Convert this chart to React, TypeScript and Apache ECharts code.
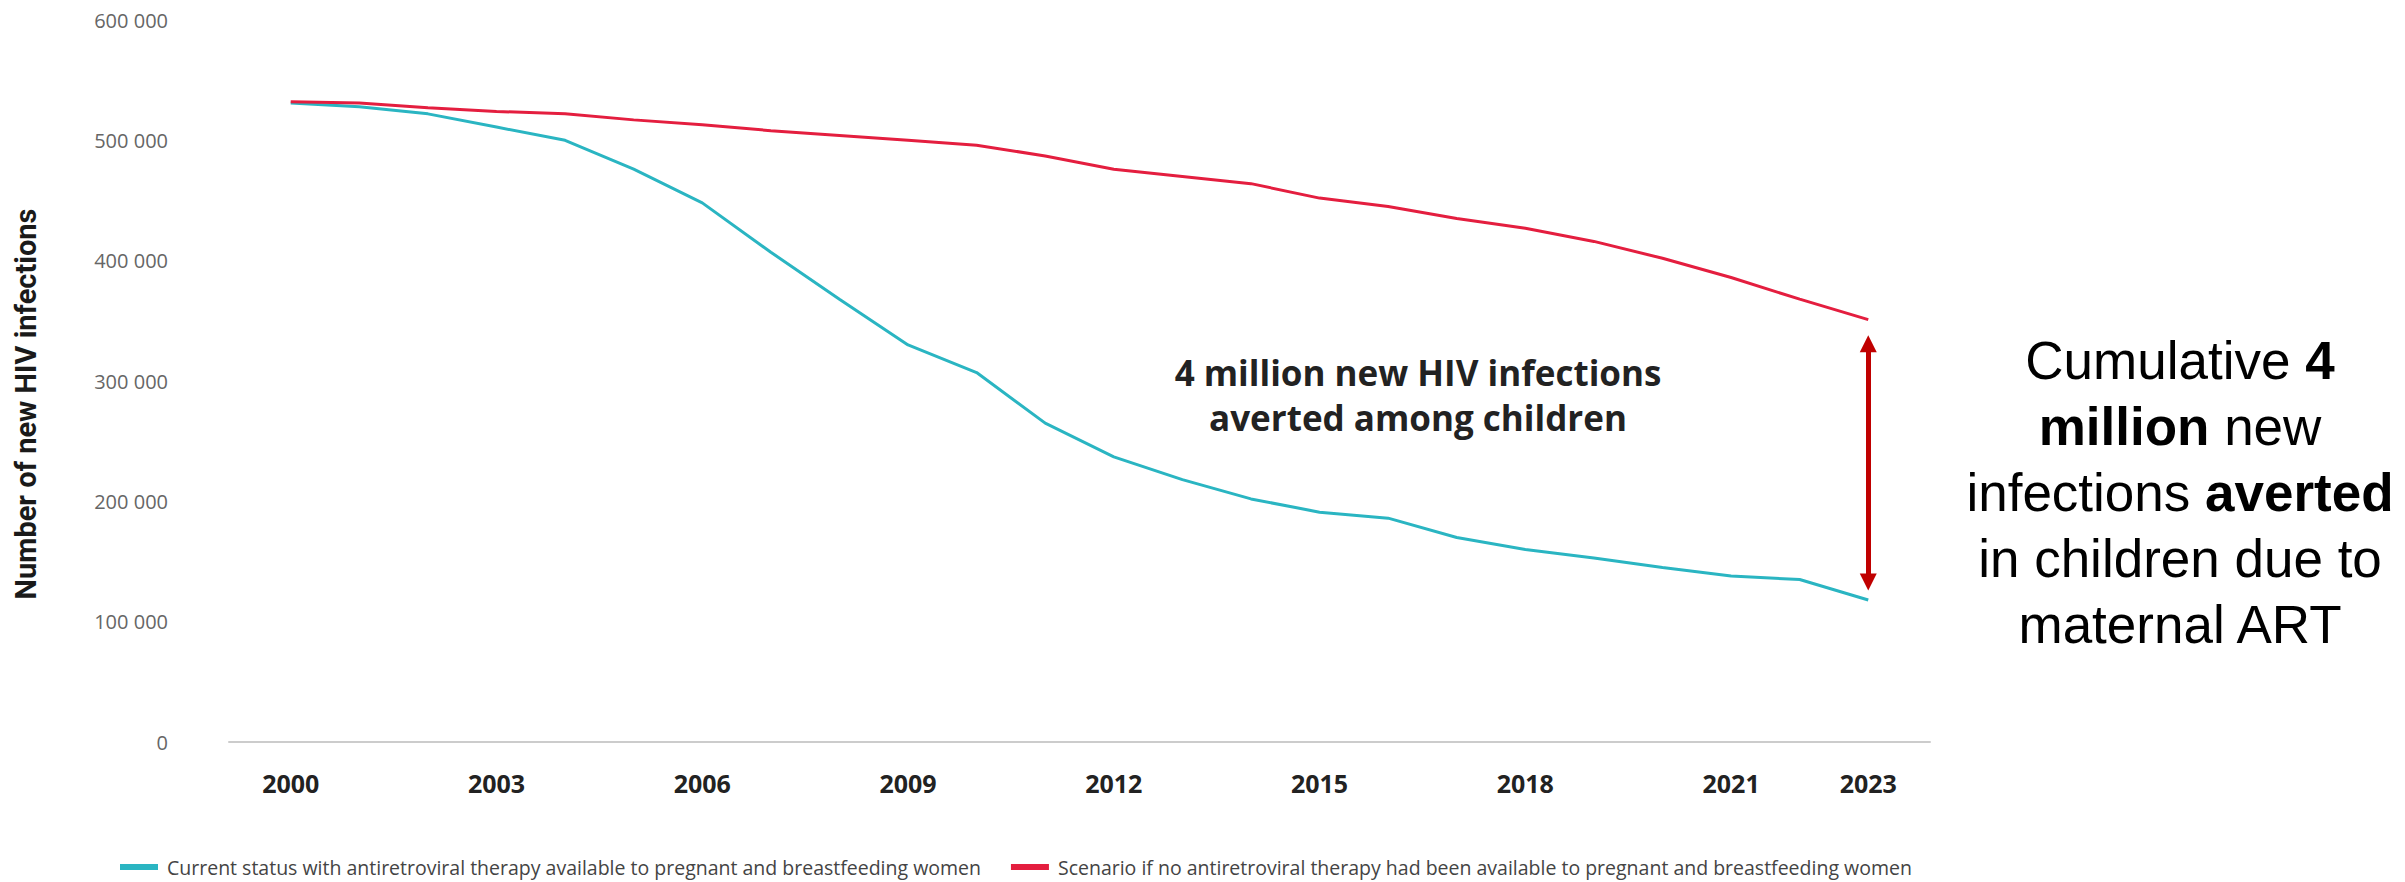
import React, { useEffect, useRef } from "react";
import * as echarts from "echarts";

// Years covered by the estimates
const years = [
  2000, 2001, 2002, 2003, 2004, 2005, 2006, 2007, 2008, 2009, 2010, 2011,
  2012, 2013, 2014, 2015, 2016, 2017, 2018, 2019, 2020, 2021, 2022, 2023,
];

// New HIV infections among children, with maternal ART available
const currentStatus = [
  531000, 528000, 522000, 511000, 500000, 476000, 448000, 407000, 368000,
  330000, 307000, 265000, 237000, 218000, 202000, 191000, 186000, 170000,
  160000, 153000, 145000, 138000, 135000, 118000,
];

// Counterfactual: no ART for pregnant and breastfeeding women
const noArtScenario = [
  532000, 531000, 527000, 524000, 522000, 517000, 513000, 508000, 504000,
  500000, 496000, 487000, 476000, 470000, 464000, 452000, 445000, 435000,
  427000, 416000, 402000, 386000, 368000, 351000,
];

const yearLabels = [2000, 2003, 2006, 2009, 2012, 2015, 2018, 2021, 2023];
const yTicks = { min: 0, max: 600000, interval: 100000 };

// Double-headed arrow spanning the gap in the final year (shaft ends)
const gapYear = 2023;
const gapTop = 331000;
const gapBottom = 133000;

const seriesNames = [
  "Current status with antiretroviral therapy available to pregnant and breastfeeding women",
  "Scenario if no antiretroviral therapy had been available to pregnant and breastfeeding women",
];

const annotationLines = [
  "4 million new HIV infections",
  "averted among children",
];

const TEAL = "#2ab5c2";
const RED = "#e41e3f";
const ARROW = "#c00000";

const spaced = (v: number) =>
  String(v).replace(/\B(?=(\d{3})+(?!\d))/g, " ");

export default function App() {
  const ref = useRef<HTMLDivElement>(null);

  useEffect(() => {
    if (!ref.current) return;
    const chart = echarts.init(ref.current, null, { renderer: "svg" });

    const annotationStyle = {
      fontFamily: "Open Sans",
      fontWeight: "bold",
      fontSize: 35,
      lineHeight: 42,
      fill: "#222",
      align: "center",
      verticalAlign: "middle",
    };

    chart.setOption({
      animation: false,
      backgroundColor: "#ffffff",
      grid: { left: 229, right: 475, top: 20, bottom: 140 },
      legend: {
        left: 115,
        top: 852,
        icon: "rect",
        itemWidth: 38,
        itemHeight: 6,
        itemGap: 30,
        textStyle: {
          fontFamily: "Open Sans",
          fontSize: 19.5,
          color: "#444",
          padding: [0, 0, 0, 4],
        },
        data: seriesNames,
      },
      xAxis: {
        type: "value",
        min: 1999.1,
        max: 2023.9,
        axisLine: { show: true, lineStyle: { color: "#cccccc", width: 2 } },
        axisTick: { show: false },
        splitLine: { show: false },
        axisLabel: {
          customValues: yearLabels,
          formatter: (v: number) => String(v),
          margin: 28,
          fontFamily: "Open Sans",
          fontWeight: "bold",
          fontSize: 25,
          color: "#222",
        },
      },
      yAxis: {
        type: "value",
        min: yTicks.min,
        max: yTicks.max,
        interval: yTicks.interval,
        axisLine: { show: false },
        axisTick: { show: false },
        splitLine: { show: false },
        axisLabel: {
          formatter: (v: number) => spaced(v),
          margin: 61,
          fontFamily: "Open Sans",
          fontSize: 20,
          color: "#666",
        },
      },
      series: [
        {
          name: seriesNames[0],
          type: "line",
          data: years.map((y, i) => [y, currentStatus[i]]),
          showSymbol: false,
          color: TEAL,
          lineStyle: { color: TEAL, width: 3 },
          silent: true,
        },
        {
          name: seriesNames[1],
          type: "line",
          data: years.map((y, i) => [y, noArtScenario[i]]),
          showSymbol: false,
          color: RED,
          lineStyle: { color: RED, width: 3 },
          silent: true,
          markLine: {
            silent: true,
            symbol: ["triangle", "triangle"],
            symbolSize: [17, 17],
            label: { show: false },
            lineStyle: { color: ARROW, width: 5, type: "solid" },
            itemStyle: { color: ARROW },
            emphasis: { disabled: true },
            data: [
              [
                { coord: [gapYear, gapTop] },
                { coord: [gapYear, gapBottom] },
              ],
            ],
          },
        },
      ],
      graphic: [
        {
          type: "text",
          x: 26,
          y: 404,
          rotation: Math.PI / 2,
          style: {
            text: "Number of new HIV infections",
            fontFamily: "Liberation Sans Narrow, Roboto, sans-serif",
            fontWeight: "bold",
            fontSize: 29,
            fill: "#1a1a1a",
            align: "center",
            verticalAlign: "middle",
          },
        },
        {
          type: "text",
          x: 1418,
          y: 372,
          style: { ...annotationStyle, text: annotationLines[0] },
        },
        {
          type: "text",
          x: 1418,
          y: 417,
          style: { ...annotationStyle, text: annotationLines[1] },
        },
        {
          type: "text",
          x: 2180,
          y: 492,
          style: {
            text:
              "Cumulative {b|4}\n{b|million} new\ninfections {b|averted}\nin children due to\nmaternal ART",
            fontFamily: "Liberation Sans, Arial, sans-serif",
            fontSize: 53,
            lineHeight: 66,
            fill: "#000",
            align: "center",
            verticalAlign: "middle",
            rich: {
              b: {
                fontFamily: "Liberation Sans, Arial, sans-serif",
                fontWeight: "bold",
                fontSize: 53,
                lineHeight: 66,
                fill: "#000",
              },
            },
          },
        },
      ],
    });

    return () => chart.dispose();
  }, []);

  return (
    <div
      ref={ref}
      style={{ position: "fixed", left: 0, top: 0, width: 2405, height: 882 }}
    />
  );
}
